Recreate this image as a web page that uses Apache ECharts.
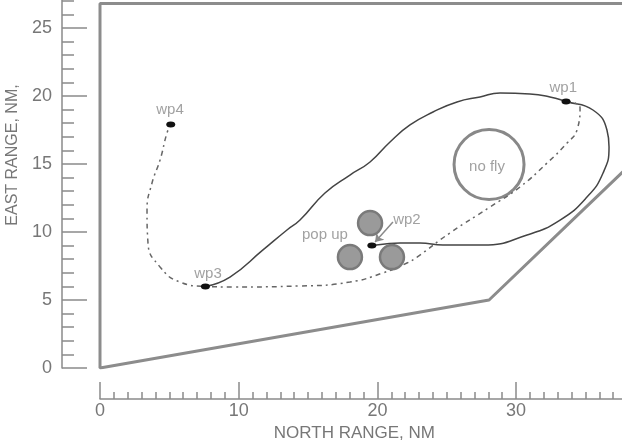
<!DOCTYPE html>
<html>
<head>
<meta charset="utf-8">
<script src="https://cdn.jsdelivr.net/npm/echarts@6/dist/echarts.min.js"></script>
<style>
html, body { margin: 0; padding: 0; background: #fff; }
#main { width: 622px; height: 441px; }
</style>
</head>
<body>
<div id="main"></div>
<script>
// operating area boundary (north, east) in NM
var boundary = [[40, 26.8], [0, 26.8], [0, 0], [28.05, 5.0], [40, 16.68]];

// flown route: wp3 -> wp1 -> loop back to wp2
var flownPath = [
    [7.6, 6.0], [9.37, 6.69], [11.75, 8.68], [13.48, 10.15], [14.42, 10.88],
    [16.22, 12.87], [18.02, 14.19], [19.47, 15.15], [20.91, 16.62], [22.35, 17.87],
    [24.01, 18.82], [25.74, 19.56], [27.4, 19.93], [28.84, 20.22], [31.0, 20.15],
    [32.44, 19.93], [33.6, 19.6], [35.54, 18.97], [36.55, 17.5], [36.7, 16.25],
    [36.27, 14.34], [35.11, 12.57], [33.17, 10.88], [30.79, 9.78], [27.61, 9.04],
    [24.73, 9.04], [23.07, 9.19], [21.63, 9.19], [20.55, 9.12], [19.6, 9.0]
];

// planned route: wp1 -> wp3 -> wp4
var plannedPath = [
    [33.6, 19.6], [34.61, 19.12], [34.39, 17.5], [33.67, 16.54], [32.23, 15.07],
    [30.28, 13.31], [28.12, 11.84], [25.23, 9.93], [22.86, 8.16], [22.13, 7.72],
    [20.4, 6.99], [18.02, 6.32], [14.42, 6.03], [9.59, 5.96], [7.6, 6.0],
    [5.77, 6.32], [4.33, 7.43], [3.46, 9.19], [3.39, 11.62], [3.75, 13.6],
    [4.33, 15.29], [4.83, 17.28], [5.1, 17.9]
];

var waypoints = [[33.6, 19.6], [19.6, 9.0], [7.6, 6.0], [5.1, 17.9]];
var popUps = [[19.47, 10.66], [18.02, 8.16], [21.05, 8.16]];
var noFly = [[28.05, 14.96]];
var notes = [
    [33.4, 20.6, 'wp1'], [22.13, 10.88, 'wp2'], [7.79, 6.91, 'wp3'],
    [5.05, 18.97, 'wp4'], [16.22, 9.78, 'pop up'], [27.9, 14.78, 'no fly']
];
var pointer = [[21.12, 10.74], [19.83, 9.26]];

var xStep = 10;
var yStep = 5;

var font = 'Liberation Sans';
var gray = '#8a8a8a';

var myChart = echarts.init(document.getElementById('main'));
var option = {
    animation: false,
    backgroundColor: '#fff',
    grid: { left: 100, right: -32.8, top: -40, bottom: 73, outerBoundsMode: 'none', containLabel: false },
    xAxis: {
        type: 'value',
        min: 0, max: 40, interval: xStep,
        offset: 31,
        name: 'NORTH RANGE, NM',
        nameLocation: 'middle',
        nameGap: 14,
        nameTextStyle: { fontFamily: font, fontSize: 17, color: '#777', padding: [0, 46, 0, 0] },
        axisLine: { onZero: false, lineStyle: { color: gray, width: 1.5 } },
        axisTick: { inside: true, length: 17, lineStyle: { color: gray, width: 1.5 } },
        minorTick: { show: true, splitNumber: 10, length: 7, lineStyle: { color: gray, width: 1.5 } },
        axisLabel: { margin: 3, fontFamily: font, fontSize: 18, color: '#777', showMaxLabel: false },
        splitLine: { show: false }
    },
    yAxis: {
        type: 'value',
        min: 0, max: 30, interval: yStep,
        offset: 38,
        name: 'EAST RANGE, NM,',
        nameLocation: 'middle',
        nameGap: 40,
        nameTextStyle: { fontFamily: font, fontSize: 16, color: '#777', padding: [0, 0, 0, 18] },
        axisLine: { onZero: false, lineStyle: { color: gray, width: 1.5 } },
        axisTick: { inside: true, length: 25, lineStyle: { color: gray, width: 1.5 } },
        minorTick: { show: true, splitNumber: 5, length: 12, lineStyle: { color: gray, width: 1.5 } },
        axisLabel: { margin: 10, fontFamily: font, fontSize: 18, color: '#777', showMaxLabel: false },
        splitLine: { show: false }
    },
    series: [
        {
            name: 'boundary', type: 'line', data: boundary, symbol: 'none',
            lineStyle: { color: '#8c8c8c', width: 3 }, z: 1
        },
        {
            name: 'flown', type: 'line', data: flownPath, symbol: 'none', smooth: true,
            lineStyle: { color: '#444', width: 1.5 }, z: 3
        },
        {
            name: 'planned', type: 'line', data: plannedPath, symbol: 'none', smooth: true,
            lineStyle: { color: '#666', width: 1.5, type: [5, 4, 2, 4] }, z: 3
        },
        {
            name: 'noFly', type: 'scatter', data: noFly, symbolSize: 70,
            itemStyle: { color: 'rgba(0,0,0,0)', borderColor: '#888', borderWidth: 3, opacity: 1 }, z: 2
        },
        {
            name: 'popUps', type: 'scatter', data: popUps, symbolSize: 24,
            itemStyle: { color: '#9a9a9a', borderColor: '#7a7a7a', borderWidth: 2.5, opacity: 1 }, z: 4
        },
        {
            name: 'pointer', type: 'lines', coordinateSystem: 'cartesian2d',
            data: [{ coords: pointer }],
            symbol: ['none', 'arrow'], symbolSize: 8,
            lineStyle: { color: '#8a8a8a', width: 1.5, opacity: 1 }, z: 4
        },
        {
            name: 'waypoints', type: 'scatter', data: waypoints, symbol: 'circle', symbolSize: [9, 6],
            itemStyle: { color: '#111', opacity: 1 }, z: 5
        },
        {
            name: 'notes', type: 'scatter', data: notes, symbolSize: 0,
            label: {
                show: true, position: 'inside', fontFamily: font, fontSize: 15, color: '#8a8a8a',
                formatter: function (p) { return p.value[2]; }
            },
            z: 6
        }
    ]
};
myChart.setOption(option);
</script>
</body>
</html>
